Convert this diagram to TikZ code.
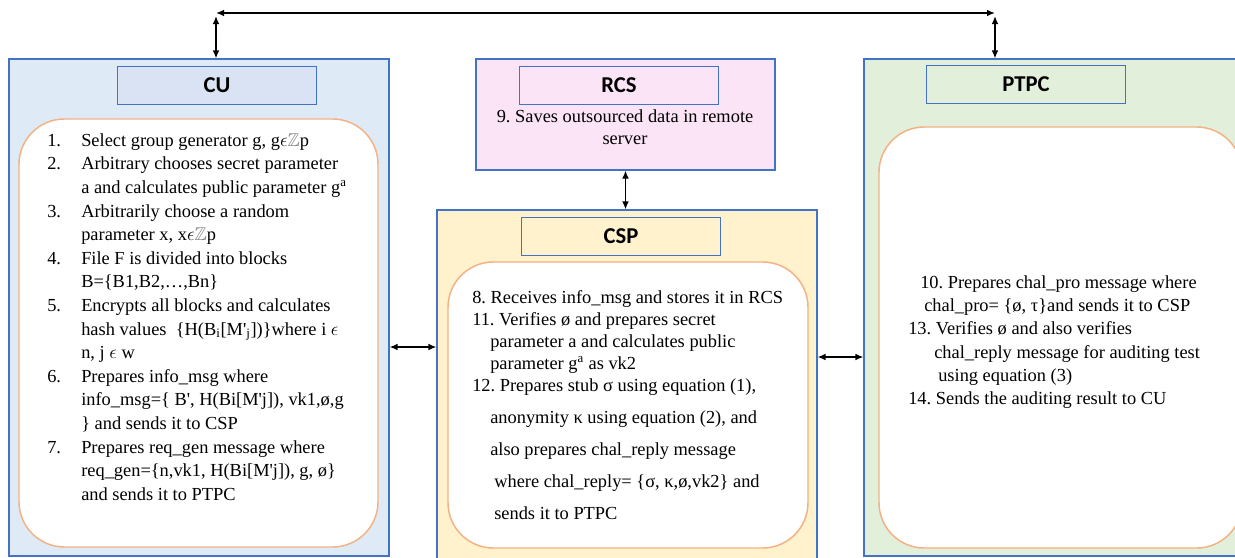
\documentclass[tikz,border=0pt]{standalone}
\usepackage{amsmath}
\usepackage{amssymb}
\usepackage{fontspec}
\setmainfont{Liberation Serif}
\newfontfamily\carlito{Carlito}
\usepackage{tikz}
\usetikzlibrary{fit,arrows.meta}
\frenchspacing

\definecolor{bordblue}{HTML}{4472C4}
\definecolor{orng}{HTML}{F4B183}
\definecolor{cufill}{HTML}{DEEBF7}
\definecolor{cuhead}{HTML}{DAE3F3}
\definecolor{rcsfill}{HTML}{FCE4F7}
\definecolor{cspfill}{HTML}{FFF2CC}
\definecolor{ptpcfill}{HTML}{E2EFDA}

\tikzset{
  zone/.style={draw=bordblue, line width=0.8pt, inner sep=0pt},
  head/.style={draw=bordblue, line width=0.8pt, inner sep=0pt, anchor=north west,
    minimum width=149.25pt, minimum height=28.5pt,
    font=\carlito\bfseries\fontsize{17}{20}\selectfont},
  panel/.style={draw=orng, line width=1.1pt, fill=white, rounded corners=34pt, inner sep=0pt},
  txt/.style={inner sep=0pt, font=\fontsize{13.8}{17.7}\selectfont},
  link/.style={line width=1.1pt, <->, >={Latex[length=6pt,width=5pt]}}
}

\begin{document}
\begin{tikzpicture}[x=0.75pt, y=-0.75pt]
  \useasboundingbox (0,0) rectangle (1235,557);
  \clip (0,0) rectangle (1235,557);

  % Define nodes
  \node[zone, fill=cufill, fit={(9,59) (389,556)}]        (cu) {};
  \node[zone, fill=rcsfill, fit={(476,59) (775,170)}]     (rcs) {};
  \node[zone, fill=cspfill, fit={(437,210) (817,570)}]    (csp) {};
  \node[zone, fill=ptpcfill, fit={(864,59) (1250,556)}]   (ptpc) {};

  \node[panel, fit={(19,119) (378,547)}]    (cupanel) {};
  \node[panel, fit={(448,262) (808,548)}]   (csppanel) {};
  \node[panel, fit={(879,127) (1242,548)}]  (ptpcpanel) {};

  \node[head, fill=cuhead]   (cuhead)   at (117,66)  {CU};
  \node[head, fill=rcsfill]  (rcshead)  at (519,66)  {RCS};
  \node[head, fill=cspfill]  (csphead)  at (521,217) {CSP};
  \node[head, fill=ptpcfill] (ptpchead) at (926,65)  {PTPC};

  \node[txt, anchor=north west] (cutext) at (47,129.5) {%
    \begin{tabular}{@{}p{25.5pt}@{}l@{}}
      1. & Select group generator g, g$\epsilon${\color{gray}$\mathbb{Z}$}p\\
      2. & Arbitrary chooses secret parameter\\
         & a and calculates public parameter g\textsuperscript{a}\\
      3. & Arbitrarily choose a random\\
         & parameter x, x$\epsilon${\color{gray}$\mathbb{Z}$}p\\
      4. & File F is divided into blocks\\
         & B=\{B1,B2,…,Bn\}\\
      5. & Encrypts all blocks and calculates\\
         & hash values \ \{H(B\textsubscript{i}[M\textquotesingle\textsubscript{j}])\}where i $\epsilon$\\
         & n, j $\epsilon$ w\\
      6. & Prepares info\_msg where\\
         & info\_msg=\{ B\textquotesingle, H(Bi[M\textquotesingle j]), vk1,ø,g\\
         & \} and sends it to CSP\\
      7. & Prepares req\_gen message where\\
         & req\_gen=\{n,vk1, H(Bi[M\textquotesingle j]), g, ø\}\\
         & and sends it to PTPC
    \end{tabular}};

  \node[txt, anchor=north, font=\fontsize{13.8}{16.5}\selectfont] (rcstext) at (625,106.6) {%
    \begin{tabular}{@{}c@{}}
      9. Saves outsourced data in remote\\
      server
    \end{tabular}};

  \node[txt, anchor=north west, font=\fontsize{13.8}{16.5}\selectfont] (csptext) at (472,287.6) {%
    \begin{tabular}{@{}l@{}}
      8. Receives info\_msg and stores it in RCS\\
      11. Verifies ø and prepares secret\\
      \hspace*{13.5pt}parameter a and calculates public\\
      \hspace*{13.5pt}parameter g\textsuperscript{a} as vk2\\
      12. Prepares stub σ using equation (1),\\[7.5pt]
      \hspace*{13.5pt}anonymity κ using equation (2), and\\[7.5pt]
      \hspace*{13.5pt}also prepares chal\_reply message\\[7.5pt]
      \hspace*{16.5pt}where chal\_reply= \{σ, κ,ø,vk2\} and\\[7.5pt]
      \hspace*{16.5pt}sends it to PTPC
    \end{tabular}};

  \node[txt, anchor=north west, font=\fontsize{13.8}{17.5}\selectfont] (ptpctext) at (908,271.7) {%
    \begin{tabular}{@{}l@{}}
      \hspace*{9pt}10. Prepares chal\_pro message where\\
      \hspace*{12pt}chal\_pro= \{ø, τ\}and sends it to CSP\\
      13. Verifies ø and also verifies\\
      \hspace*{19.5pt}chal\_reply message for auditing test\\
      \hspace*{22.5pt}using equation (3)\\
      14. Sends the auditing result to CU
    \end{tabular}};

  \coordinate (topl) at (216,13);
  \coordinate (topr) at (995,13);

  % Connect the nodes
  \draw[link] (topl) -- (topr);
  \draw[link] (topl |- 0,16) -- (topl |- cu.north);
  \draw[link] (topr |- 0,16) -- (topr |- ptpc.north);
  \draw[link] (rcs.south) -- (rcs.south |- csp.north);
  \draw[link] (cu.east |- 0,347) -- (csp.west |- 0,347);
  \draw[link] (csp.east |- 0,357) -- (ptpc.west |- 0,357);
\end{tikzpicture}
\end{document}
